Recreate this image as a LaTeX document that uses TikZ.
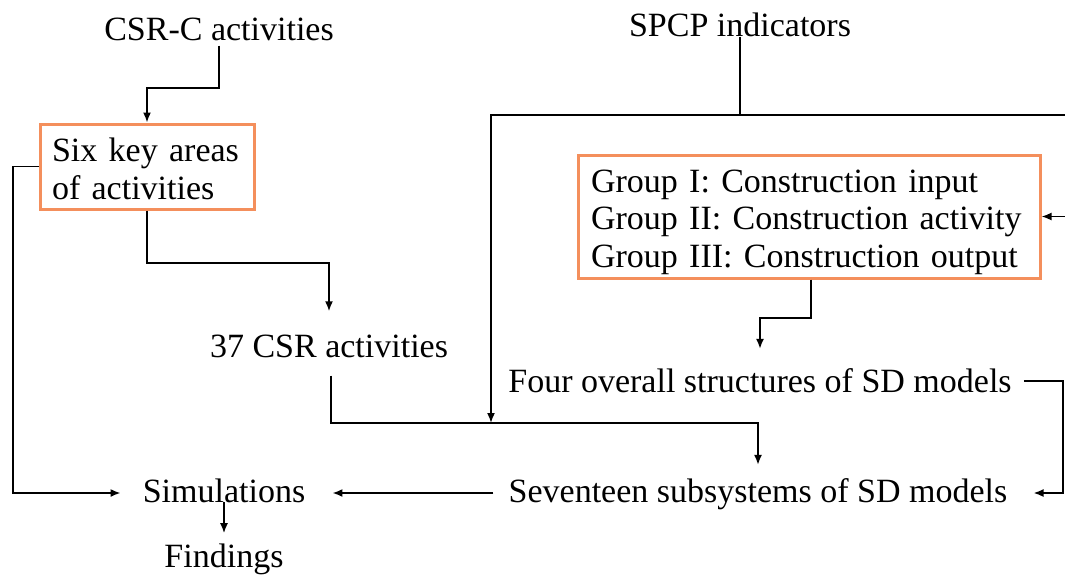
\documentclass[tikz,border=0pt]{standalone}
\usepackage{fontspec}
\setmainfont{Liberation Serif}
\usetikzlibrary{arrows.meta}
\definecolor{boxorange}{RGB}{244,143,92}
\begin{document}
\begin{tikzpicture}[x=1pt,y=-1pt,
  lbl/.style={font=\fontsize{34}{37.5}\selectfont, inner sep=0pt, anchor=base},
  grp/.style={draw=boxorange, line width=3pt, font=\fontsize{34}{37.5}\selectfont,
    align=left, inner ysep=0pt},
  plain/.style={line width=1.7pt},
  link/.style={plain, -{Latex[length=10pt,width=8pt]}}]
\useasboundingbox (0,0) rectangle (1065,574);

% labels
\node[lbl] (csrc) at (219,40) {CSR-C activities};
\node[lbl] (spcp) at (740,36) {SPCP indicators};
\node[grp, inner xsep=12pt, text width=190pt, minimum width=214pt, minimum height=85pt]
  (six) at (147,166.5) {\rule{0pt}{28pt}Six key areas\\of activities};
\node[grp, inner xsep=13pt, text width=436pt, minimum width=462pt, minimum height=123pt]
  (grp) at (809,216.5) {\rule{0pt}{34pt}Group I: Construction input\\Group II: Construction activity\\Group III: Construction output};
\node[lbl] (cs37) at (329,357) {37 CSR activities};
\node[lbl] (four) at (760,392) {Four overall structures of SD models};
\node[lbl] (sim) at (224,502) {Simulations};
\node[lbl] (sev) at (758,502) {Seventeen subsystems of SD models};
\node[lbl] (find) at (224,567) {Findings};

% bend points
\coordinate (k1) at (219,88);
\coordinate (k2) at (13,166.5);
\coordinate (k3) at (147,263);
\coordinate (k4) at (331,423);
\coordinate (k5) at (740,115);
\coordinate (j1) at (491,423);
\coordinate (k6) at (1068,115);
\coordinate (k7) at (811,318);
\coordinate (k8) at (1063,381);

% connectors
\draw[link] (csrc.south) ++(0,5) -- (k1) -| (six.north);
\draw[link] (six.west) -- (k2) |- ([xshift=-22pt,yshift=9pt]sim.base west);
\draw[link] (six.south) -- (k3) -| ([yshift=23pt]cs37.north);
\draw[link] ([yshift=-18pt]cs37.south -| k4) -- (k4) -| ([yshift=13pt]sev.north);
\draw[plain] (spcp.south) -- (k5);
\draw[link] (k5) -| (j1);
\draw[link] (k5) -- (k6) |- (grp.east);
\draw[link] (grp.south -| k7) -- (k7) -| ([yshift=19pt]four.north);
\draw[link] ([xshift=12pt,yshift=11pt]four.base east) -- (k8) |- ([xshift=26pt,yshift=9pt]sev.base east);
\draw[link] ([xshift=-15pt,yshift=9pt]sev.base west) -- ([xshift=27pt,yshift=9pt]sim.base east);
\draw[link] (sim.base) -- ([yshift=10pt]find.north);
\end{tikzpicture}
\end{document}
